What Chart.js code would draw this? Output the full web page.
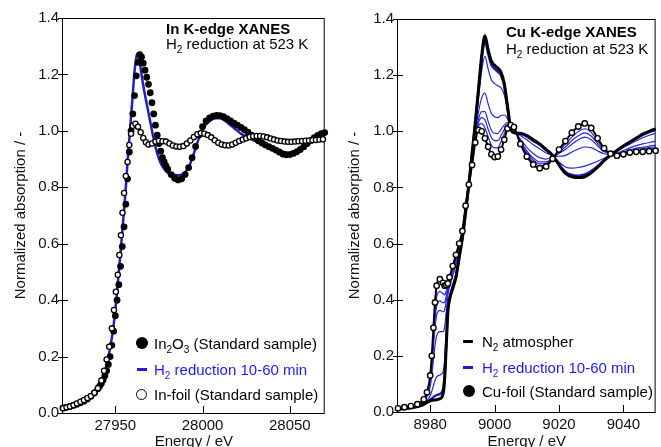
<!DOCTYPE html>
<html>
<head>
<meta charset="utf-8">
<script src="https://cdn.jsdelivr.net/npm/chart.js@4.4.1/dist/chart.umd.min.js"></script>
<style>
  body { margin: 0; background: #fff; width: 661px; height: 447px; position: relative; overflow: hidden; font-family: "Liberation Sans", Arial, sans-serif; }
  canvas { position: absolute; top: 0; }
  .txt { position: absolute; font-size: 15px; line-height: 15px; white-space: nowrap; color: #000; z-index: 2; }
  .txt sub { font-size: 10px; line-height: 0; vertical-align: -4px; }
  .bold { font-weight: bold; }
  .blue { color: #1a1aff; }
  .dot { position: absolute; width: 12px; height: 12px; border-radius: 50%; background: #000; z-index: 2; }
  .ring { position: absolute; width: 9px; height: 9px; border-radius: 50%; border: 1.5px solid #000; background: #fff; z-index: 2; }
  .dash { position: absolute; width: 10px; height: 3px; z-index: 2; }
</style>
</head>
<body>
<canvas id="cIn" width="330" height="447" style="left:0"></canvas>
<canvas id="cCu" width="331" height="447" style="left:330px"></canvas>

<div class="txt bold" style="left:166px;top:21px">In K-edge XANES</div>
<div class="txt" style="left:166px;top:36px">H<sub>2</sub> reduction at 523 K</div>
<div class="dot" style="left:136px;top:337px"></div>
<div class="txt" style="left:154px;top:336px">In<sub>2</sub>O<sub>3</sub> (Standard sample)</div>
<div class="dash" style="left:137px;top:368px;background:#1f1fc8"></div>
<div class="txt blue" style="left:154px;top:362px">H<sub>2</sub> reduction 10-60 min</div>
<div class="ring" style="left:136px;top:389px"></div>
<div class="txt" style="left:154px;top:387px">In-foil (Standard sample)</div>

<div class="txt bold" style="left:506px;top:24px">Cu K-edge XANES</div>
<div class="txt" style="left:506px;top:41px">H<sub>2</sub> reduction at 523 K</div>
<div class="dash" style="left:463px;top:340px;background:#000"></div>
<div class="txt" style="left:482px;top:334px">N<sub>2</sub> atmospher</div>
<div class="dash" style="left:463px;top:366px;background:#1f1fc8"></div>
<div class="txt blue" style="left:482px;top:360px">H<sub>2</sub> reduction 10-60 min</div>
<div class="dot" style="left:463px;top:385px"></div>
<div class="txt" style="left:482px;top:384px">Cu-foil (Standard sample)</div>

<script>
// axis ticks
const yTicks = [0, 0.2, 0.4, 0.6, 0.8, 1.0, 1.2, 1.4];
const inTicks = [27950, 28000, 28050];
const cuTicks = [8980, 9000, 9020, 9040];

// In K-edge: In2O3 standard
const in2o3E = [27920, 27922, 27924, 27926, 27928, 27930, 27932, 27934, 27936, 27938, 27940,
  27941, 27942, 27943, 27944, 27945, 27946, 27947, 27948, 27949, 27950, 27951, 27952, 27953, 27954,
  27955, 27956, 27957, 27958, 27959, 27960, 27961, 27962, 27963, 27964, 27965, 27966, 27967, 27968,
  27969, 27970, 27971, 27972, 27973, 27974, 27975, 27976, 27977, 27978, 27979, 27980,
  27982, 27984, 27986, 27988, 27990, 27992, 27994, 27996, 27998, 28000, 28002, 28004, 28006, 28008,
  28010, 28012, 28014, 28016, 28018, 28020, 28022, 28024, 28026, 28028, 28030, 28032, 28034, 28036,
  28038, 28040, 28042, 28044, 28046, 28048, 28050, 28052, 28054, 28056, 28058, 28060, 28062, 28064,
  28066, 28068, 28070];
const in2o3Mu = [0.018, 0.020, 0.023, 0.027, 0.031, 0.036, 0.042, 0.050, 0.059, 0.071, 0.086,
  0.095, 0.105, 0.117, 0.132, 0.150, 0.172, 0.200, 0.240, 0.290, 0.345, 0.400, 0.455, 0.520, 0.590,
  0.660, 0.740, 0.830, 0.925, 1.000, 1.060, 1.125, 1.195, 1.243, 1.270, 1.262, 1.240, 1.215, 1.190,
  1.165, 1.135, 1.100, 1.060, 1.020, 0.985, 0.955, 0.928, 0.905, 0.890, 0.876, 0.864,
  0.845, 0.832, 0.826, 0.830, 0.845, 0.870, 0.905, 0.945, 0.985, 1.015, 1.035, 1.046, 1.052, 1.055,
  1.054, 1.050, 1.043, 1.035, 1.027, 1.020, 1.012, 1.004, 0.995, 0.985, 0.975, 0.965, 0.957, 0.950,
  0.944, 0.938, 0.932, 0.925, 0.918, 0.915, 0.916, 0.920, 0.926, 0.934, 0.944, 0.955, 0.966, 0.976,
  0.984, 0.990, 0.994];

// In K-edge: H2 reduction 10-60 min
const h2InE = [27920, 27930, 27935, 27940, 27943, 27945, 27947, 27949, 27951, 27953, 27955, 27956,
  27957, 27958, 27959, 27960, 27961, 27962, 27962.5, 27963.5, 27965, 27966.6, 27968.5, 27970.4,
  27972, 27974, 27976, 27978, 27980, 27983, 27986, 27989, 27992, 27995, 27998, 28001, 28004, 28007,
  28010, 28013, 28016, 28019, 28022, 28025, 28028, 28031, 28034, 28037, 28040, 28043, 28046, 28049,
  28052, 28055, 28058, 28061, 28064, 28067, 28070];
const h2InMu = [0.018, 0.038, 0.055, 0.090, 0.130, 0.170, 0.230, 0.310, 0.430, 0.570, 0.720, 0.800,
  0.890, 0.970, 1.050, 1.130, 1.210, 1.260, 1.272, 1.260, 1.200, 1.140, 1.080, 1.020,
  0.970, 0.920, 0.885, 0.865, 0.852, 0.845, 0.843, 0.848, 0.870, 0.920, 0.975, 1.015, 1.035, 1.045,
  1.045, 1.035, 1.020, 1.005, 0.990, 0.980, 0.970, 0.962, 0.955, 0.948, 0.940, 0.932, 0.925, 0.922,
  0.925, 0.930, 0.942, 0.955, 0.967, 0.978, 0.985];

// In K-edge: In foil standard
const inFoilE = [27920, 27922, 27924, 27926, 27928, 27930, 27932, 27934, 27936, 27938, 27940, 27942,
  27943.5, 27945, 27946.5, 27948, 27949.2, 27950.3, 27951.4, 27952.3, 27953.2, 27954.1, 27955, 27956,
  27957, 27958, 27959, 27960, 27961.5, 27963, 27964.5, 27966, 27967.5, 27969, 27971, 27973, 27975,
  27977, 27979, 27981, 27983, 27985, 27987, 27989, 27991, 27993, 27995, 27997, 27999, 28001, 28003,
  28005, 28007, 28009, 28011, 28013, 28015, 28017, 28019, 28021, 28023, 28025, 28027, 28029, 28031,
  28033, 28035, 28037, 28039, 28041, 28043, 28045, 28047, 28049, 28051, 28053, 28055, 28057, 28059,
  28061, 28063, 28065, 28067, 28069];
const inFoilMu = [0.017, 0.020, 0.023, 0.028, 0.034, 0.040, 0.046, 0.053, 0.060, 0.072, 0.088, 0.115,
  0.150, 0.190, 0.235, 0.300, 0.365, 0.430, 0.490, 0.560, 0.630, 0.710, 0.780, 0.840,
  0.890, 0.950, 0.990, 1.018, 1.025, 1.015, 0.995, 0.975, 0.960, 0.952, 0.955, 0.962, 0.965,
  0.963, 0.962, 0.955, 0.948, 0.945, 0.944, 0.946, 0.955, 0.966, 0.978, 0.988, 0.992, 0.990, 0.985,
  0.977, 0.967, 0.958, 0.952, 0.949, 0.948, 0.952, 0.958, 0.964, 0.969, 0.974, 0.978, 0.981, 0.982,
  0.982, 0.980, 0.977, 0.973, 0.969, 0.966, 0.964, 0.962, 0.961, 0.961, 0.962, 0.963, 0.964, 0.965,
  0.966, 0.967, 0.968, 0.969, 0.970];

// Cu K-edge: energy grid shared by the Cu series
const cuE = [8970, 8972, 8974, 8976, 8978, 8979, 8980, 8980.5, 8981, 8981.5, 8982, 8983, 8984,
  8984.5, 8985, 8985.5, 8986, 8987, 8988, 8989, 8990, 8991, 8992, 8993, 8994, 8995, 8996, 8997,
  8998, 8999, 9000, 9001, 9002, 9003, 9004, 9005, 9006, 9008, 9010, 9012, 9014, 9016, 9018, 9020,
  9022, 9024, 9026, 9028, 9030, 9032, 9034, 9036, 9038, 9040, 9042, 9044, 9046, 9048, 9050];
const n2Mu = [0.010, 0.012, 0.015, 0.019, 0.027, 0.034, 0.040, 0.042, 0.043, 0.043, 0.044, 0.047, 0.065,
  0.120, 0.240, 0.360, 0.400, 0.440, 0.480, 0.550, 0.620, 0.710, 0.810, 0.920, 1.030, 1.150, 1.270, 1.340,
  1.290, 1.250, 1.235, 1.225, 1.210, 1.170, 1.090, 1.010, 0.995, 0.993, 0.985, 0.970, 0.955, 0.935, 0.915, 0.880,
  0.850, 0.838, 0.835, 0.838, 0.852, 0.872, 0.895, 0.915, 0.932, 0.948, 0.962, 0.976, 0.990, 1.000, 1.008];
const cuFoilMu = [0.013, 0.017, 0.021, 0.028, 0.045, 0.070, 0.130, 0.200, 0.300, 0.390, 0.450, 0.473, 0.460,
  0.450, 0.452, 0.458, 0.480, 0.520, 0.560, 0.600, 0.645, 0.735, 0.810, 0.880, 0.960, 1.005, 1.000, 0.975,
  0.945, 0.918, 0.908, 0.910, 0.935, 0.970, 1.010, 1.022, 1.015, 0.955, 0.910, 0.882, 0.868, 0.875, 0.902, 0.935,
  0.965, 0.995, 1.017, 1.028, 1.012, 0.975, 0.940, 0.920, 0.913, 0.918, 0.924, 0.927, 0.927, 0.929, 0.931];
const h2Cu10 = [0.010, 0.012, 0.015, 0.019, 0.028, 0.035, 0.044, 0.048, 0.053, 0.057, 0.060, 0.064, 0.081,
  0.133, 0.248, 0.364, 0.403, 0.443, 0.483, 0.552, 0.621, 0.711, 0.810, 0.918, 1.027, 1.144, 1.259, 1.325,
  1.276, 1.237, 1.222, 1.212, 1.199, 1.162, 1.087, 1.010, 0.996, 0.991, 0.982, 0.966, 0.952, 0.933, 0.914, 0.882,
  0.855, 0.844, 0.842, 0.846, 0.858, 0.876, 0.897, 0.915, 0.931, 0.947, 0.960, 0.974, 0.987, 0.997, 1.005];
const h2Cu20 = [0.011, 0.013, 0.016, 0.021, 0.031, 0.041, 0.058, 0.074, 0.094, 0.112, 0.125, 0.132, 0.144,
  0.186, 0.282, 0.380, 0.416, 0.456, 0.496, 0.560, 0.625, 0.715, 0.810, 0.912, 1.016, 1.121, 1.216, 1.267,
  1.221, 1.184, 1.170, 1.162, 1.155, 1.130, 1.074, 1.012, 0.999, 0.985, 0.970, 0.952, 0.938, 0.923, 0.912, 0.891,
  0.873, 0.869, 0.871, 0.876, 0.884, 0.893, 0.904, 0.916, 0.928, 0.942, 0.954, 0.966, 0.977, 0.986, 0.993];
const h2Cu30 = [0.012, 0.015, 0.018, 0.024, 0.037, 0.054, 0.090, 0.130, 0.187, 0.237, 0.271, 0.286, 0.286,
  0.305, 0.359, 0.415, 0.445, 0.485, 0.525, 0.578, 0.634, 0.724, 0.810, 0.898, 0.991, 1.069, 1.119, 1.136,
  1.097, 1.064, 1.052, 1.049, 1.056, 1.058, 1.045, 1.017, 1.006, 0.972, 0.943, 0.921, 0.906, 0.901, 0.908, 0.911,
  0.914, 0.926, 0.937, 0.944, 0.942, 0.930, 0.920, 0.918, 0.921, 0.931, 0.941, 0.949, 0.955, 0.960, 0.965];
const h2Cu40 = [0.012, 0.016, 0.019, 0.026, 0.040, 0.061, 0.107, 0.159, 0.233, 0.300, 0.344, 0.362, 0.357,
  0.364, 0.397, 0.433, 0.459, 0.499, 0.539, 0.587, 0.639, 0.729, 0.810, 0.890, 0.978, 1.043, 1.070, 1.070,
  1.035, 1.004, 0.993, 0.992, 1.007, 1.022, 1.031, 1.019, 1.010, 0.965, 0.930, 0.905, 0.891, 0.891, 0.905, 0.921,
  0.935, 0.954, 0.970, 0.979, 0.970, 0.948, 0.928, 0.919, 0.918, 0.926, 0.934, 0.940, 0.943, 0.947, 0.951];
const h2Cu50 = [0.012, 0.016, 0.020, 0.026, 0.042, 0.064, 0.114, 0.172, 0.254, 0.328, 0.377, 0.396, 0.389,
  0.391, 0.414, 0.440, 0.466, 0.506, 0.546, 0.591, 0.641, 0.731, 0.810, 0.887, 0.973, 1.031, 1.049, 1.041,
  1.007, 0.978, 0.967, 0.967, 0.985, 1.006, 1.024, 1.020, 1.011, 0.962, 0.924, 0.898, 0.884, 0.886, 0.904, 0.925,
  0.944, 0.967, 0.984, 0.994, 0.983, 0.956, 0.932, 0.919, 0.916, 0.923, 0.931, 0.936, 0.938, 0.942, 0.945];
const h2Cu60 = [0.013, 0.017, 0.020, 0.027, 0.043, 0.066, 0.121, 0.184, 0.274, 0.355, 0.409, 0.430, 0.421,
  0.417, 0.431, 0.448, 0.472, 0.512, 0.552, 0.595, 0.643, 0.733, 0.810, 0.884, 0.967, 1.020, 1.027, 1.012,
  0.980, 0.951, 0.941, 0.942, 0.963, 0.990, 1.018, 1.021, 1.013, 0.959, 0.918, 0.891, 0.877, 0.881, 0.903, 0.930,
  0.954, 0.979, 0.999, 1.009, 0.996, 0.965, 0.936, 0.920, 0.915, 0.921, 0.928, 0.932, 0.933, 0.936, 0.939];

const pts = (xs, ys) => xs.map((x, i) => ({ x: x, y: ys[i] }));

Chart.defaults.font.family = '"Liberation Sans", Arial, sans-serif';
Chart.defaults.font.size = 15;
Chart.defaults.color = '#111';

// box + inward tick marks
const frame = {
  id: 'frame',
  beforeDatasetsDraw(chart) {
    const { ctx, chartArea: a, scales: { x, y } } = chart;
    ctx.save();
    ctx.strokeStyle = '#000';
    ctx.lineWidth = 1;
    ctx.strokeRect(a.left - 0.5, a.top + 0.5, a.right - a.left, a.bottom - a.top);
    ctx.beginPath();
    x.ticks.forEach(t => {
      const px = Math.round(x.getPixelForValue(t.value)) + 0.5;
      ctx.moveTo(px, a.bottom);
      ctx.lineTo(px, a.bottom - 7);
    });
    y.ticks.forEach(t => {
      const py = Math.round(y.getPixelForValue(t.value)) + 0.5;
      ctx.moveTo(a.left - 5, py);
      ctx.lineTo(a.left + 5, py);
    });
    ctx.stroke();
    ctx.restore();
  }
};

function makeChart(id, xMin, xMax, xTicks, yWidth, yTitlePad, padTop, xHeight, datasets) {
  return new Chart(document.getElementById(id), {
    type: 'scatter',
    data: { datasets: datasets },
    options: {
      responsive: false,
      animation: false,
      devicePixelRatio: 1,
      layout: { padding: { top: padTop, right: 3, left: 0, bottom: 0 } },
      plugins: { legend: { display: false }, tooltip: { enabled: false } },
      elements: { line: { cubicInterpolationMode: 'monotone' } },
      scales: {
        x: {
          type: 'linear', min: xMin, max: xMax,
          grid: { display: false, drawTicks: false },
          border: { display: false },
          afterBuildTicks: s => { s.ticks = xTicks.map(v => ({ value: v })); },
          afterFit: s => { s.height = xHeight; },
          ticks: { padding: 4, maxRotation: 0, autoSkip: false, callback: v => String(v) },
          title: { display: true, text: 'Energy / eV', padding: { top: 0, bottom: -4 } }
        },
        y: {
          type: 'linear', min: 0, max: 1.4,
          grid: { display: false, drawTicks: false },
          border: { display: false },
          afterBuildTicks: s => { s.ticks = yTicks.map(v => ({ value: v })); },
          afterFit: s => { s.width = yWidth; },
          ticks: { padding: 4, autoSkip: false, callback: v => v.toFixed(1) },
          title: { display: true, text: 'Normalized absorption / -', padding: { top: yTitlePad, bottom: 0 } }
        }
      }
    },
    plugins: [frame]
  });
}

makeChart('cIn', 27920, 28070, inTicks, 63, 12, 18, 34, [
  { label: 'In-foil (Standard sample)', data: pts(inFoilE, inFoilMu), showLine: false, clip: false,
    pointRadius: 2.6, pointBorderWidth: 1.3, pointBackgroundColor: '#fff', pointBorderColor: '#000' },
  { label: 'In2O3 (Standard sample)', data: pts(in2o3E, in2o3Mu), showLine: false, clip: false,
    pointRadius: 3.4, pointBorderWidth: 0, pointBackgroundColor: '#000', pointBorderColor: '#000' },
  { label: 'H2 reduction 10-60 min', data: pts(h2InE, h2InMu), showLine: true, clip: false,
    borderColor: '#1f1fc8', borderWidth: 2.5, pointRadius: 0 }
]);

const thinBlue = (label, ys) => ({ label: label, data: pts(cuE, ys), showLine: true, clip: false,
  borderColor: '#2626e0', borderWidth: 1.2, pointRadius: 0 });

makeChart('cCu', 8970, 9050, cuTicks, 68, 16, 19, 35, [
  { label: 'Cu-foil (Standard sample)', data: pts(cuE, cuFoilMu), showLine: true, clip: false,
    borderColor: '#000', borderWidth: 2, pointRadius: 2.7, pointBorderWidth: 1.4,
    pointBackgroundColor: '#fff', pointBorderColor: '#000' },
  { label: 'N2 atmospher', data: pts(cuE, n2Mu), showLine: true, clip: false,
    borderColor: '#000', borderWidth: 3, pointRadius: 0 },
  { label: 'H2 10 min', data: pts(cuE, h2Cu10), showLine: true, clip: false,
    borderColor: '#1f1fc8', borderWidth: 2.5, pointRadius: 0 },
  thinBlue('H2 20 min', h2Cu20),
  thinBlue('H2 30 min', h2Cu30),
  thinBlue('H2 40 min', h2Cu40),
  thinBlue('H2 50 min', h2Cu50),
  thinBlue('H2 60 min', h2Cu60)
]);
</script>
</body>
</html>
